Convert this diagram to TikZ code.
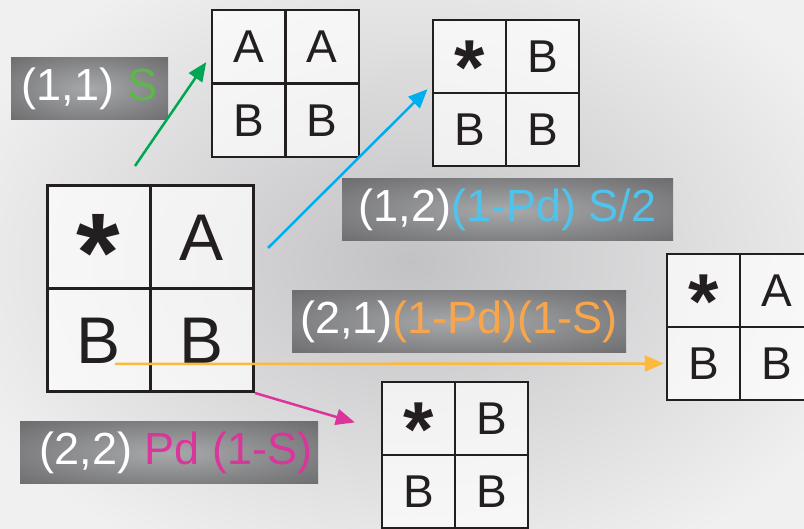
\documentclass[tikz,border=0pt]{standalone}
\usepackage{fontspec}
\setmainfont{Liberation Sans}
\usetikzlibrary{arrows.meta}

\definecolor{bgcol}{HTML}{F0F0F1}
\definecolor{bgdark}{HTML}{C2C2C4}
\definecolor{gridline}{HTML}{231F20}
\definecolor{taginner}{HTML}{A8A9AB}
\definecolor{tagouter}{HTML}{555558}
\definecolor{arrowgreen}{HTML}{00A651}
\definecolor{arrowblue}{HTML}{00AEEF}
\definecolor{arroworange}{HTML}{FDB93A}
\definecolor{arrowpink}{HTML}{D9359B}
\definecolor{txtgreen}{HTML}{5CB848}
\definecolor{txtblue}{HTML}{4EC4EC}
\definecolor{txtorange}{HTML}{F9A54B}
\definecolor{txtpink}{HTML}{D9359B}

% soft glow used by the label boxes
\pgfdeclareradialshading{tagglow}{\pgfpoint{0bp}{0bp}}{color(0bp)=(taginner); color(50bp)=(tagouter); color(72bp)=(tagouter)}

% bold asterisk with its ink centred on the baseline
\newcommand\starmark[1]{{\fontsize{#1}{#1}\selectfont\bfseries\raisebox{-0.485em}[0pt][0pt]{*}}}

\begin{document}
\begin{tikzpicture}[x=1pt,y=-1pt,
  cell/.style={draw=gridline, line width=2.5pt, fill=white, fill opacity=0.7,
    text opacity=1, draw opacity=1, inner sep=0pt, minimum size=73pt,
    text=gridline, font=\fontsize{46}{46}\selectfont},
  bigcell/.style={cell, minimum size=103pt, line width=3pt,
    font=\fontsize{66}{66}\selectfont},
  tag/.style={shade, shading=tagglow, inner sep=0pt, minimum height=62pt,
    text=white, font=\fontsize{45}{50}\selectfont},
  link/.style={line width=2.5pt, -{Triangle[length=19pt,width=16pt]}},
]
\useasboundingbox (0,0) rectangle (804,529);

% backdrop with a soft grey haze in the middle
\fill[bgcol] (0,0) rectangle (804,529);
\begin{scope}
  \clip (0,0) rectangle (804,529);
  \shade[inner color=bgdark, outer color=bgcol] (-70,-78) rectangle (890,602);
\end{scope}

% starting grid
\node[bigcell] (g0-11) at (98.5,237.5) {\starmark{112}};
\node[bigcell] (g0-12) at (201.5,237.5) {A};
\node[bigcell] (g0-21) at (98.5,340.5) {B};
\node[bigcell] (g0-22) at (201.5,340.5) {B};

% outcome (1,1)
\node[cell, minimum size=73.5pt] (g1-11) at (248.75,46.75) {A};
\node[cell, minimum size=73.5pt] (g1-12) at (322.25,46.75) {A};
\node[cell, minimum size=73.5pt] (g1-21) at (248.75,120.25) {B};
\node[cell, minimum size=73.5pt] (g1-22) at (322.25,120.25) {B};

% outcome (1,2)
\node[cell] (g2-11) at (469.5,56.5) {\starmark{78}};
\node[cell] (g2-12) at (542.5,56.5) {B};
\node[cell] (g2-21) at (469.5,129.5) {B};
\node[cell] (g2-22) at (542.5,129.5) {B};

% outcome (2,1)
\node[cell] (g3-11) at (703.5,290.5) {\starmark{78}};
\node[cell] (g3-12) at (776.5,290.5) {A};
\node[cell] (g3-21) at (703.5,363.5) {B};
\node[cell] (g3-22) at (776.5,363.5) {B};

% outcome (2,2)
\node[cell] (g4-11) at (418.5,418.5) {\starmark{78}};
\node[cell] (g4-12) at (491.5,418.5) {B};
\node[cell] (g4-21) at (418.5,491.5) {B};
\node[cell] (g4-22) at (491.5,491.5) {B};

% transition labels
\node[tag, minimum width=157pt] (t11) at (89.5,88.5) {(1,1) \textcolor{txtgreen}{S}};
\node[tag, minimum width=331pt] (t12) at (507.5,210) {(1,2)\textcolor{txtblue}{(1-Pd) S/2}};
\node[tag, minimum width=334pt] (t21) at (459,322) {(2,1)\textcolor{txtorange}{(1-Pd)(1-S)}};
\node[tag, minimum width=298pt] (t22) at (169,453) {\kern14pt(2,2) \textcolor{txtpink}{Pd (1-S)}};

% transitions
\coordinate (s1) at (135,166);
\coordinate (s2) at (268,248);
\coordinate (s3) at (115,364);
\coordinate (s4) at (255,393);

\draw[link, arrowgreen, shorten >=8pt] (s1) -- (g1-11.193);
\draw[link, arrowblue, shorten >=6pt] (s2) -- (g2-11.217);
\draw[link, arroworange, shorten >=2pt] (s3) -- (g3-21.west);
\draw[link, arrowpink, shorten >=27pt] (s4) -- (g4-11.197);
\end{tikzpicture}
\end{document}
